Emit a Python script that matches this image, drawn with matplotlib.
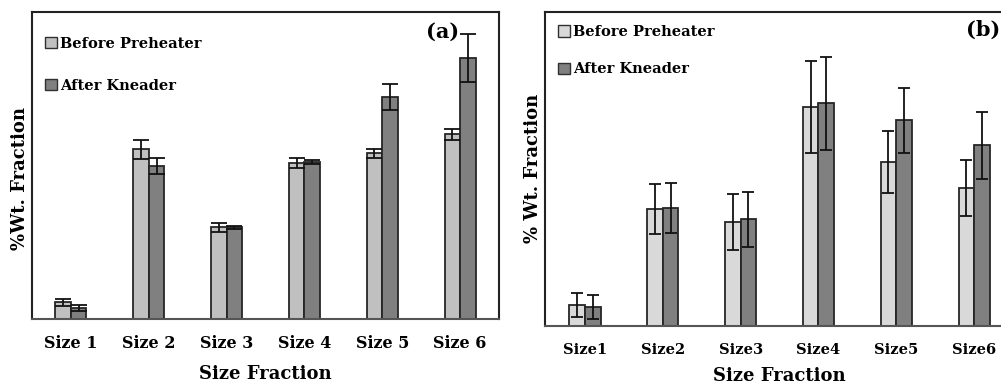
import matplotlib
matplotlib.use("Agg")
import matplotlib.pyplot as plt
import numpy as np
from matplotlib.patches import Patch

categories_a = ["Size 1", "Size 2", "Size 3", "Size 4", "Size 5", "Size 6"]
before_a = [17, 170, 92, 156, 166, 185]
before_a_err = [3.5, 9.5, 4.5, 5, 4.5, 5.5]
after_a = [11, 153, 92, 157, 222, 261]
after_a_err = [3, 8, 1.5, 2, 13, 24]

categories_b = ["Size1", "Size2", "Size3", "Size4", "Size5", "Size6"]
before_b = [21, 117, 104, 219, 164, 138]
before_b_err = [12, 25, 28, 46, 31, 28]
after_b = [19, 118, 107, 223, 206, 181]
after_b_err = [12, 25, 27.5, 46.5, 32.5, 33.5]

series = ["Before Preheater", "After Kneader"]

plt.rcParams['font.family'] = ['DejaVu Serif']
plt.rcParams['font.weight'] = 'bold'

fig = plt.figure(figsize=(10.01, 3.83), dpi=100)
W, H = 1001, 383

def px_axes(l, t, r, b):
    return fig.add_axes([l / W, 1 - b / H, (r - l) / W, (b - t) / H])

def draw(ax, cats, bef, bef_e, aft, aft_e, ymax, light, cap, ylabel, xlim,
         tick_fs, tick_pad, xl_y, yl_x):
    x = np.arange(len(cats))
    w = 0.2
    ax.bar(x - w / 2, bef, w, color=light, edgecolor='#262626', linewidth=1.3,
           yerr=bef_e, error_kw=dict(ecolor='#111111', elinewidth=1.3, capsize=cap, capthick=1.3))
    ax.bar(x + w / 2, aft, w, color='#808080', edgecolor='#262626', linewidth=1.3,
           yerr=aft_e, error_kw=dict(ecolor='#111111', elinewidth=1.3, capsize=cap, capthick=1.3))
    ax.set_xlim(*xlim)
    ax.set_ylim(0, ymax)
    ax.set_yticks([])
    ax.set_xticks(x)
    ax.set_xticklabels(cats, fontsize=tick_fs, fontweight='bold')
    ax.tick_params(axis='x', length=0, pad=tick_pad)
    for s in ax.spines.values():
        s.set_linewidth(1.5)
        s.set_color('#222222')
    ax.spines['bottom'].set_color('#555555')
    ax.set_xlabel("Size Fraction", fontsize=13, fontweight='bold')
    ax.xaxis.label.set_va('center')
    ax.xaxis.set_label_coords(xl_y[0], xl_y[1])
    ax.set_ylabel(ylabel, fontsize=13, fontweight='bold')
    ax.yaxis.label.set_va('center')
    ax.yaxis.set_label_coords(yl_x[0], yl_x[1])
    return ax

# panel (a): axes 32..499 x, 12..319 y
axa = px_axes(32, 12, 499, 319)
draw(axa, categories_a, before_a, before_a_err, after_a, after_a_err, 307,
     '#c0c0c0', 6, "%Wt. Fraction", (-0.5, 5.5), 11.5, 11.7,
     ((265 - 32) / 467, (319 - 374) / 307), ((20 - 32) / 467, (319 - 178) / 307))
# panel (b): axes 545..1013 x, 12..326 y
axb = px_axes(545, 12, 1013, 326)
draw(axb, categories_b, before_b, before_b_err, after_b, after_b_err, 314,
     '#d9d9d9', 4.5, "% Wt. Fraction", (-0.514, 5.5), 10.5, 12.4,
     ((779 - 545) / 468, (326 - 376) / 314), ((533 - 545) / 468, (326 - 168) / 314))

handles_a = [Patch(facecolor='#c0c0c0', edgecolor='#303030'), Patch(facecolor='#808080', edgecolor='#303030')]
handles_b = [Patch(facecolor='#d9d9d9', edgecolor='#303030'), Patch(facecolor='#808080', edgecolor='#303030')]
axa.legend(handles_a, series, loc='upper left', bbox_to_anchor=(0.0, 0.962), frameon=False,
           handlelength=0.8, handleheight=0.8, handletextpad=0.2, labelspacing=1.92,
           prop=dict(weight='bold', size=10.5))
axb.legend(handles_b, series, loc='upper left', bbox_to_anchor=(0.0, 1.0), frameon=False,
           handlelength=0.8, handleheight=0.8, handletextpad=0.2, labelspacing=1.6,
           prop=dict(weight='bold', size=10.5))

fig.text(443 / W, 1 - 32 / H, "(a)", ha='center', va='center', fontsize=15, fontweight='bold')
fig.text(983 / W, 1 - 30 / H, "(b)", ha='center', va='center', fontsize=15, fontweight='bold')

fig.savefig("out.png", dpi=100)
